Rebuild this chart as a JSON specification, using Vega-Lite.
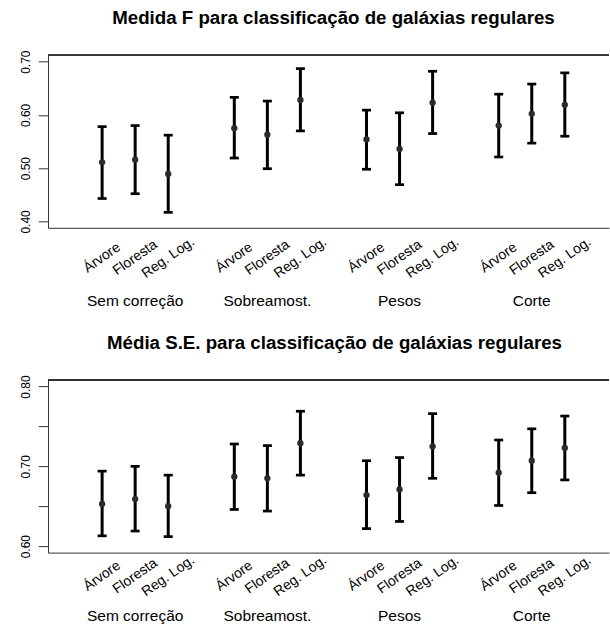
{
  "$schema": "https://vega.github.io/schema/vega-lite/v6.json",
  "padding": {"left": 19, "top": 8.3, "right": 0, "bottom": 0},
  "background": "white",
  "config": {
    "font": "Liberation Sans",
    "view": {"stroke": null},
    "axis": {"domainColor": "#333333", "tickColor": "#333333", "labelColor": "black", "grid": false, "title": null, "labelFont": "Liberation Sans"}
  },
  "datasets": {
    "medidaF": [
      {"grupo": "Sem correção", "metodo": "Árvore", "media": 0.511, "inf": 0.443, "sup": 0.578},
      {"grupo": "Sem correção", "metodo": "Floresta", "media": 0.516, "inf": 0.452, "sup": 0.580},
      {"grupo": "Sem correção", "metodo": "Reg. Log.", "media": 0.489, "inf": 0.417, "sup": 0.562},
      {"grupo": "Sobreamost.", "metodo": "Árvore", "media": 0.575, "inf": 0.519, "sup": 0.633},
      {"grupo": "Sobreamost.", "metodo": "Floresta", "media": 0.563, "inf": 0.499, "sup": 0.626},
      {"grupo": "Sobreamost.", "metodo": "Reg. Log.", "media": 0.628, "inf": 0.570, "sup": 0.687},
      {"grupo": "Pesos", "metodo": "Árvore", "media": 0.554, "inf": 0.498, "sup": 0.609},
      {"grupo": "Pesos", "metodo": "Floresta", "media": 0.536, "inf": 0.469, "sup": 0.604},
      {"grupo": "Pesos", "metodo": "Reg. Log.", "media": 0.623, "inf": 0.565, "sup": 0.682},
      {"grupo": "Corte", "metodo": "Árvore", "media": 0.580, "inf": 0.521, "sup": 0.639},
      {"grupo": "Corte", "metodo": "Floresta", "media": 0.602, "inf": 0.547, "sup": 0.658},
      {"grupo": "Corte", "metodo": "Reg. Log.", "media": 0.619, "inf": 0.560, "sup": 0.679}
    ],
    "mediaSE": [
      {"grupo": "Sem correção", "metodo": "Árvore", "media": 0.653, "inf": 0.613, "sup": 0.694},
      {"grupo": "Sem correção", "metodo": "Floresta", "media": 0.659, "inf": 0.619, "sup": 0.700},
      {"grupo": "Sem correção", "metodo": "Reg. Log.", "media": 0.650, "inf": 0.612, "sup": 0.689},
      {"grupo": "Sobreamost.", "metodo": "Árvore", "media": 0.687, "inf": 0.646, "sup": 0.728},
      {"grupo": "Sobreamost.", "metodo": "Floresta", "media": 0.685, "inf": 0.644, "sup": 0.726},
      {"grupo": "Sobreamost.", "metodo": "Reg. Log.", "media": 0.729, "inf": 0.689, "sup": 0.769},
      {"grupo": "Pesos", "metodo": "Árvore", "media": 0.664, "inf": 0.622, "sup": 0.707},
      {"grupo": "Pesos", "metodo": "Floresta", "media": 0.671, "inf": 0.631, "sup": 0.711},
      {"grupo": "Pesos", "metodo": "Reg. Log.", "media": 0.725, "inf": 0.685, "sup": 0.766},
      {"grupo": "Corte", "metodo": "Árvore", "media": 0.692, "inf": 0.651, "sup": 0.733},
      {"grupo": "Corte", "metodo": "Floresta", "media": 0.707, "inf": 0.667, "sup": 0.747},
      {"grupo": "Corte", "metodo": "Reg. Log.", "media": 0.723, "inf": 0.683, "sup": 0.763}
    ]
  },
  "bounds": "flush",
  "spacing": 151.8,
  "vconcat": [
    {
      "width": 561,
      "height": 172.5,
      "title": {"text": "Medida F para classificação de galáxias regulares", "fontSize": 18.7, "fontWeight": "bold", "font": "Liberation Sans", "color": "black", "anchor": "middle", "frame": "group", "dx": 5, "offset": 7.8, "baseline": "alphabetic"},
      "data": {"name": "medidaF"},
      "layer": [
        {
          "encoding": {
            "x": {"field": "grupo", "type": "nominal", "sort": null,
              "scale": {"type": "band", "domain": ["Sem correção", "Sobreamost.", "Pesos", "Corte"], "paddingInner": 0, "paddingOuter": 0.1218, "align": 0.654},
              "axis": {"ticks": false, "domain": true, "labelAngle": 0, "labelFontSize": 15.5, "labelPadding": 66, "labelBaseline": "top"}},
            "xOffset": {"field": "metodo", "type": "nominal", "sort": null,
              "scale": {"type": "band", "domain": ["Árvore", "Floresta", "Reg. Log."], "paddingInner": 0, "paddingOuter": 0.5}}
          },
          "layer": [
            {"mark": {"type": "rule", "strokeWidth": 3, "color": "black"},
             "encoding": {"y": {"field": "inf", "type": "quantitative",
               "scale": {"domain": [0.388, 0.712], "nice": false, "zero": false},
               "axis": {"values": [0.40, 0.45, 0.50, 0.55, 0.60, 0.65, 0.70], "labelExpr": "abs(round(datum.value*100)) % 10 == 0 ? format(datum.value, '.2f') : ''", "tickSize": 9.7, "labelAngle": -90, "labelFontSize": 12, "labelPadding": 13, "labelAlign": "center", "labelBaseline": "middle"}},
               "y2": {"field": "sup"}}},
            {"mark": {"type": "tick", "thickness": 2.7, "size": 9, "color": "black", "opacity": 1},
             "encoding": {"y": {"field": "inf", "type": "quantitative"}}},
            {"mark": {"type": "tick", "thickness": 2.7, "size": 9, "color": "black", "opacity": 1},
             "encoding": {"y": {"field": "sup", "type": "quantitative"}}},
            {"mark": {"type": "point", "filled": true, "size": 40, "color": "#2b2b2b", "opacity": 1},
             "encoding": {"y": {"field": "media", "type": "quantitative"}}},
            {"mark": {"type": "text", "angle": -35, "fontSize": 14, "align": "center", "baseline": "middle", "dx": -17.2, "dy": 24.6, "color": "black"},
             "encoding": {"y": {"datum": 0.388}, "text": {"field": "metodo"}}}
          ]
        },
        {"mark": {"type": "rule", "color": "#333333", "strokeWidth": 1}, "encoding": {"y": {"datum": 0.712}}}
      ]
    },
    {
      "width": 561,
      "height": 172.5,
      "title": {"text": "Média S.E. para classificação de galáxias regulares", "fontSize": 18.7, "fontWeight": "bold", "font": "Liberation Sans", "color": "black", "anchor": "middle", "frame": "group", "dx": 6, "offset": 7, "baseline": "alphabetic"},
      "data": {"name": "mediaSE"},
      "layer": [
        {
          "encoding": {
            "x": {"field": "grupo", "type": "nominal", "sort": null,
              "scale": {"type": "band", "domain": ["Sem correção", "Sobreamost.", "Pesos", "Corte"], "paddingInner": 0, "paddingOuter": 0.1218, "align": 0.654},
              "axis": {"ticks": false, "domain": true, "labelAngle": 0, "labelFontSize": 15.5, "labelPadding": 55.5, "labelBaseline": "top"}},
            "xOffset": {"field": "metodo", "type": "nominal", "sort": null,
              "scale": {"type": "band", "domain": ["Árvore", "Floresta", "Reg. Log."], "paddingInner": 0, "paddingOuter": 0.5}}
          },
          "layer": [
            {"mark": {"type": "rule", "strokeWidth": 3, "color": "black"},
             "encoding": {"y": {"field": "inf", "type": "quantitative",
               "scale": {"domain": [0.592, 0.808], "nice": false, "zero": false},
               "axis": {"values": [0.60, 0.65, 0.70, 0.75, 0.80], "labelExpr": "abs(round(datum.value*100)) % 10 == 0 ? format(datum.value, '.2f') : ''", "tickSize": 9.7, "labelAngle": -90, "labelFontSize": 12, "labelPadding": 13, "labelAlign": "center", "labelBaseline": "middle"}},
               "y2": {"field": "sup"}}},
            {"mark": {"type": "tick", "thickness": 2.7, "size": 9, "color": "black", "opacity": 1},
             "encoding": {"y": {"field": "inf", "type": "quantitative"}}},
            {"mark": {"type": "tick", "thickness": 2.7, "size": 9, "color": "black", "opacity": 1},
             "encoding": {"y": {"field": "sup", "type": "quantitative"}}},
            {"mark": {"type": "point", "filled": true, "size": 40, "color": "#2b2b2b", "opacity": 1},
             "encoding": {"y": {"field": "media", "type": "quantitative"}}},
            {"mark": {"type": "text", "angle": -35, "fontSize": 14, "align": "center", "baseline": "middle", "dx": -13.5, "dy": 19.3, "color": "black"},
             "encoding": {"y": {"datum": 0.592}, "text": {"field": "metodo"}}}
          ]
        },
        {"mark": {"type": "rule", "color": "#333333", "strokeWidth": 1}, "encoding": {"y": {"datum": 0.808}}}
      ]
    }
  ]
}
